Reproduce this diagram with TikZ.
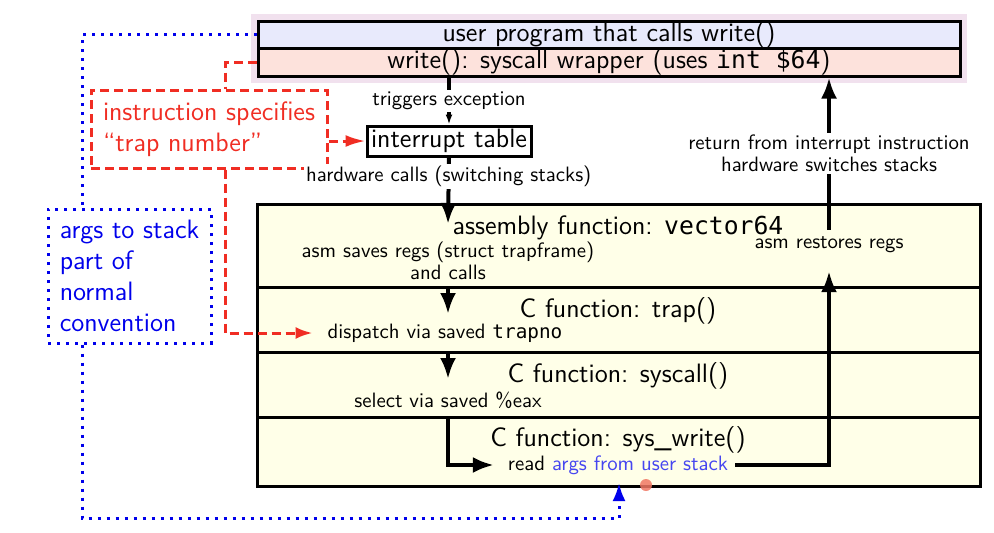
\documentclass[tikz,border=0pt]{standalone}
\usepackage{fontspec}
\setmonofont{DejaVu Sans Mono}[Scale=0.93]
\usetikzlibrary{arrows.meta,calc}
\definecolor{userblue}{RGB}{232,234,252}
\definecolor{wrappink}{RGB}{253,226,220}
\definecolor{bgpink}{RGB}{241,225,238}
\definecolor{yellowfill}{RGB}{255,255,232}
\definecolor{myred}{RGB}{240,45,35}
\definecolor{myblue}{RGB}{0,0,235}
\definecolor{lblue}{RGB}{70,70,240}
\definecolor{dotcol}{RGB}{240,120,100}
\begin{document}
\begin{tikzpicture}[x=0.5pt,y=-0.5pt,
  big/.style={font=\sffamily\fontsize{13.3}{15.5}\selectfont},
  small/.style={font=\sffamily\fontsize{10.4}{11}\selectfont},
  box/.style={draw, line width=1.5pt, inner sep=0pt},
  arr/.style={line width=2pt, -{Latex[length=10.5pt,width=8pt]}},
  reddash/.style={draw=myred, line width=1.5pt, dash pattern=on 4.5pt off 2.5pt},
  bluedot/.style={draw=myblue, line width=1.5pt, dash pattern=on 1.5pt off 3pt},
  lbl/.style={small, fill=white, inner sep=1pt}]
\useasboundingbox (0,0) rectangle (994,532);
% top boxes
\fill[bgpink] (251,14) rectangle (967,83);
\node[box, fill=userblue, minimum width=351pt, minimum height=13.5pt, big] (user) at (609,34.5) {user program that calls write()};
\node[box, fill=wrappink, minimum width=351pt, minimum height=14pt, big] (wrapper) at (609,62) {write(): syscall wrapper (uses \texttt{int \$64})};
\node[box, fill=white, minimum width=82pt, minimum height=15pt, big] (itab) at (449,141) {interrupt table};
% side notes
\node[reddash, text=myred, big, align=left, minimum width=118pt, minimum height=39pt] (redbox) at (209,129) {instruction specifies\\“trap number”};
\node[bluedot, text=myblue, big, align=left, minimum width=81.5pt, minimum height=67pt] (bluebox) at (129.5,276) {args to stack\\part of\\normal\\convention};
% kernel stack of functions
\filldraw[fill=yellowfill, line width=1.5pt] (257,204) rectangle (980,486);
\draw[line width=1.5pt] (257,287) -- (980,287) (257,352) -- (980,352) (257,417) -- (980,417);
\node[big] (asmt) at (618,228) {assembly function: \texttt{vector64}};
\node[small, align=center] (saves) at (448,261) {asm saves regs (struct trapframe)\\and calls};
\node[big] (trapt) at (618,311) {C function: trap()};
\node[small] (dispatch) at (445,333) {dispatch via saved \texttt{trapno}};
\node[big] (sct) at (618,376) {C function: syscall()};
\node[small] (select) at (448,400) {select via saved \%eax};
\node[big] (swt) at (618,440) {C function: sys\_write()};
\node[small] (readn) at (618,465) {read \textcolor{lblue}{args from user stack}};
\node[small] (restores) at (829,245) {asm restores regs};
\coordinate (asmin) at (448,224);
\coordinate (d1) at (448,287);
\coordinate (t1) at (448,314);
\coordinate (d2) at (448,352);
\coordinate (t2) at (448,379);
\coordinate (d3) at (448,417);
\coordinate (bl) at (619,518);
\coordinate (argtip) at (619,483);
% control flow
\draw[line width=2pt, -{Latex[length=5pt,width=3.5pt]}] (wrapper.south -| itab.north) -- node[lbl] {triggers exception} (itab.north);
\draw[arr] (itab.south) -- node[lbl, pos=0.28] {hardware calls (switching stacks)} (asmin);
\draw[arr] (d1) -- (t1);
\draw[arr] (d2) -- (t2);
\draw[arr, shorten >=3.5pt] (d3) |- (readn.west);
\draw[arr, shorten >=5.5pt] (readn.east) -| (restores.south);
\draw[arr] (restores.north) -- node[lbl, align=center] {return from interrupt instruction\\hardware switches stacks} (restores.north |- wrapper.south);
% red dashed
\draw[reddash] (wrapper.west) -| ([xshift=8pt]redbox.north);
\draw[reddash, -{Latex[length=10pt,width=6pt]}] (redbox.east |- itab.west) -- (itab.west);
\draw[reddash, -{Latex[length=8.5pt,width=6pt]}, shorten >=4pt] ([xshift=8pt]redbox.south) |- (dispatch.west);
% blue dotted
\draw[bluedot] (user.west) -| ([xshift=-23.75pt]bluebox.north);
\draw[bluedot, -{Latex[length=9pt,width=6.5pt]}] ([xshift=-23.75pt]bluebox.south) |- (bl) -- (argtip);
% pointer dot
\fill[dotcol, opacity=0.85] (646,485) circle[radius=3pt];
\end{tikzpicture}
\end{document}
